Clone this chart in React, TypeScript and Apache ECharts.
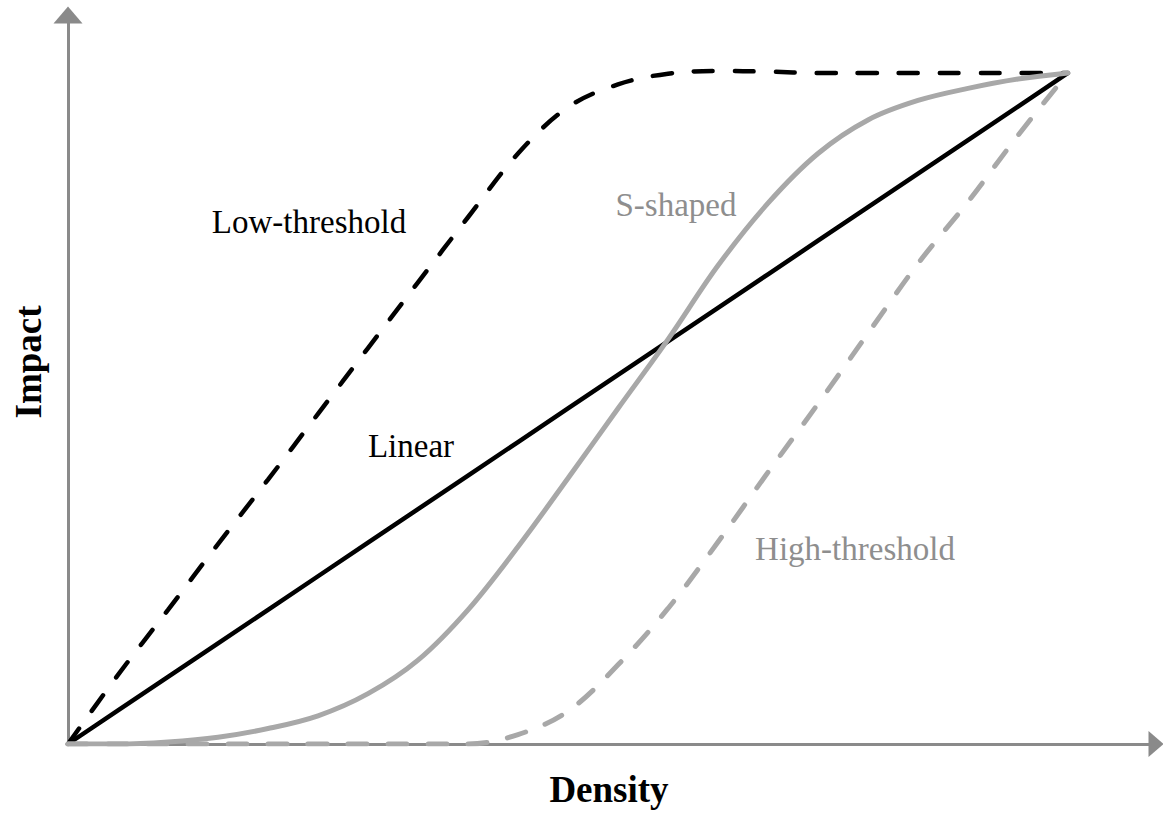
import React, { useEffect, useRef } from "react";
import * as echarts from "echarts";

// Data (Density 0..100, Impact 0..100)
const densityGrid: number[] = [
  0, 5, 10, 15, 20, 25, 30, 35, 40, 45, 50, 55, 60, 65, 70, 75, 80, 85, 90, 95, 100,
];

const linearImpact: number[] = [
  0, 5, 10, 15, 20, 25, 30, 35, 40, 45, 50, 55, 60, 65, 70, 75, 80, 85, 90, 95, 100,
];

const lowThresholdImpact: number[] = [
  0, 10.3, 20, 29.8, 39.4, 49.2, 59, 68.8, 78.5, 88, 94.9, 98.3, 99.9, 100.3, 100.2,
  100, 100, 100, 100, 100, 100,
];

const sShapedImpact: number[] = [
  0, 0, 0.3, 1.0, 2.3, 4.2, 7.5, 12.5, 20, 29.4, 39.6, 50, 60.3, 71.3, 80.6, 88,
  93, 95.9, 97.7, 99.1, 100,
];

const highThresholdImpact: number[] = [
  0, 0, 0, 0, 0, 0, 0, 0, 0, 1.4, 4.9, 11.8, 20.2, 30.1, 40.5, 50.7, 61.2, 71.6,
  80.8, 90.7, 100,
];

const seriesNames = ["Linear", "Low-threshold", "S-shaped", "High-threshold"];
const axisNames = { x: "Density", y: "Impact" };

const pair = (ys: number[]) => densityGrid.map((x, i) => [x, ys[i]]);

export default function App() {
  const ref = useRef<HTMLDivElement>(null);

  useEffect(() => {
    if (!ref.current) return;
    const chart = echarts.init(ref.current, undefined, { renderer: "svg" });
    const serif = "Liberation Serif";
    const black = "#000000";
    const gray = "#a8a8a8";
    const labelGray = "#8e8e8e";
    const axisColor = "#8a8a8a";

    const label = (text: string, x: number, y: number, fill: string) => ({
      type: "text",
      x,
      y,
      style: {
        text,
        fontFamily: serif,
        fontSize: 33,
        fill,
        textAlign: "center",
        textVerticalAlign: "middle",
      },
    });

    chart.setOption({
      animation: false,
      backgroundColor: "#ffffff",
      grid: { left: 68, right: 7, top: 15, bottom: 70, containLabel: false },
      xAxis: {
        type: "value",
        min: 0,
        max: 108.8,
        axisLine: {
          show: true,
          symbol: ["none", "triangle"],
          symbolSize: [26, 15],
          lineStyle: { color: axisColor, width: 3 },
        },
        axisTick: { show: false },
        axisLabel: { show: false },
        splitLine: { show: false },
      },
      yAxis: {
        type: "value",
        min: 0,
        max: 108.64,
        axisLine: {
          show: true,
          symbol: ["none", "triangle"],
          symbolSize: [29, 17],
          lineStyle: { color: axisColor, width: 3 },
        },
        axisTick: { show: false },
        axisLabel: { show: false },
        splitLine: { show: false },
      },
      series: [
        {
          name: seriesNames[0],
          type: "line",
          data: pair(linearImpact),
          showSymbol: false,
          lineStyle: { color: black, width: 4.5 },
          z: 3,
        },
        {
          name: seriesNames[1],
          type: "line",
          data: pair(lowThresholdImpact),
          showSymbol: false,
          smooth: 0.35,
          lineStyle: { color: black, width: 4.5, type: [19, 22], cap: "round" },
          z: 3,
        },
        {
          name: seriesNames[2],
          type: "line",
          data: pair(sShapedImpact),
          showSymbol: false,
          smooth: 0.35,
          lineStyle: { color: gray, width: 5, cap: "round" },
          z: 4,
        },
        {
          name: seriesNames[3],
          type: "line",
          data: pair(highThresholdImpact),
          showSymbol: false,
          smooth: 0.35,
          lineStyle: { color: gray, width: 5, type: [19, 21], cap: "round" },
          z: 4,
        },
      ],
      graphic: [
        label(seriesNames[1], 309, 222, black),
        label(seriesNames[0], 411, 446, black),
        label(seriesNames[2], 676, 205, labelGray),
        label(seriesNames[3], 855, 549, labelGray),
        {
          type: "text",
          x: 609,
          y: 789,
          style: {
            text: axisNames.x,
            fontFamily: serif,
            fontWeight: "bold",
            fontSize: 37,
            fill: black,
            textAlign: "center",
            textVerticalAlign: "middle",
          },
        },
        {
          type: "text",
          x: 28,
          y: 362,
          rotation: Math.PI / 2,
          style: {
            text: axisNames.y,
            fontFamily: serif,
            fontWeight: "bold",
            fontSize: 37,
            fill: black,
            textAlign: "center",
            textVerticalAlign: "middle",
          },
        },
      ],
    });

    return () => {
      chart.dispose();
    };
  }, []);

  return <div ref={ref} style={{ width: 1163, height: 814, position: "absolute", left: 0, top: 0 }} />;
}
